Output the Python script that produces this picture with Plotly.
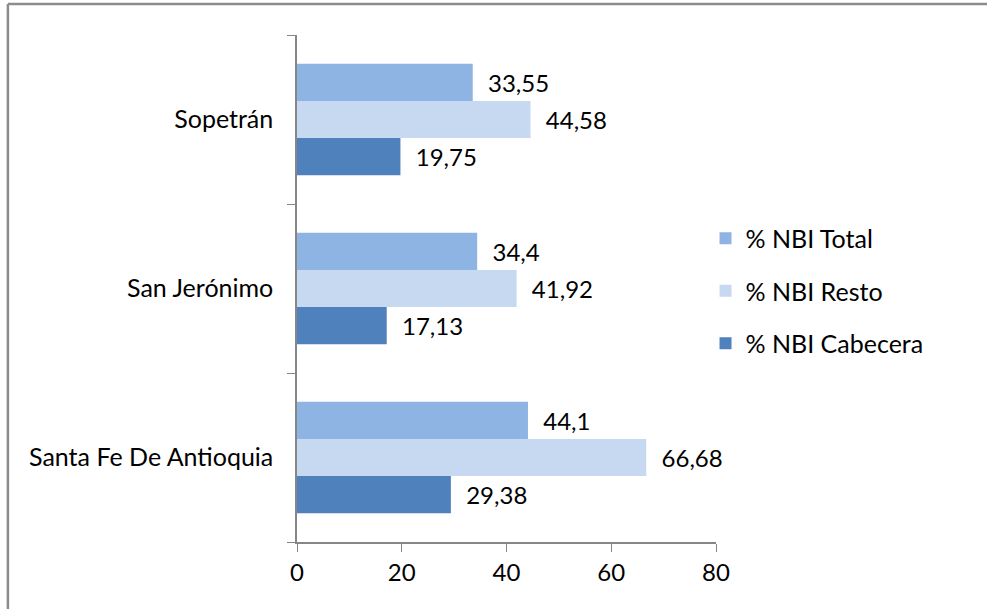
import plotly.graph_objects as go

categories = ["Santa Fe De Antioquia", "San Jerónimo", "Sopetrán"]
nbi_total = [44.1, 34.4, 33.55]
nbi_resto = [66.68, 41.92, 44.58]
nbi_cabecera = [29.38, 17.13, 19.75]
x_ticks = [0, 20, 40, 60, 80]

def fmt(vals):
    return [str(v).replace(".", ",") for v in vals]

FONT = "Lato, Open Sans, sans-serif"

fig = go.Figure()
series = [
    ("% NBI Cabecera", nbi_cabecera, "#4F81BD", 3),
    ("% NBI Resto", nbi_resto, "#C6D9F1", 2),
    ("% NBI Total", nbi_total, "#8EB4E3", 1),
]
for name, vals, color, rank in series:
    fig.add_trace(go.Bar(
        y=categories, x=vals, name=name, orientation="h",
        marker=dict(color=color, line=dict(width=0)),
        text=fmt(vals), texttemplate="  %{text}", textposition="outside",
        textfont=dict(size=24, color="#000000", family=FONT),
        cliponaxis=False, legendgroup=name, legendrank=rank,
    ))

frame_line = dict(color="#8C8C8C", width=2.5)
fig.update_layout(
    width=987, height=609,
    margin=dict(l=297, r=271, t=35, b=67),
    paper_bgcolor="white", plot_bgcolor="white",
    barmode="group", bargap=0.34, bargroupgap=0,
    font=dict(family=FONT, color="#000000"),
    showlegend=True,
    legend=dict(traceorder="grouped", x=0.975, xanchor="left", y=0.495, yanchor="middle",
                font=dict(size=25, family=FONT), tracegroupgap=17,
                itemwidth=30, bgcolor="rgba(0,0,0,0)"),
    xaxis=dict(range=[0, 80], tickvals=x_ticks, showgrid=False, zeroline=False,
               showline=True, linecolor="#868686", linewidth=1.5,
               ticks="outside", ticklen=8, tickcolor="#868686",
               tickfont=dict(size=24, family=FONT)),
    yaxis=dict(showgrid=False, showline=True, linecolor="#868686", linewidth=1.5,
               ticks="outside", ticklen=8, tickcolor="#868686", tickson="boundaries",
               tickfont=dict(size=25, family=FONT), ticklabelstandoff=17),
    shapes=[
        dict(type="line", xref="paper", yref="paper", x0=-0.69, x1=1.7,
             y0=1.061, y1=1.061, line=frame_line, layer="below"),
        dict(type="line", xref="paper", yref="paper", x0=-0.69, x1=-0.69,
             y0=-0.16, y1=1.061, line=frame_line, layer="below"),
    ],
)

fig.write_html("out.html", config={"displayModeBar": False},
               post_script="document.body.style.margin='0';document.body.style.overflow='hidden';")
